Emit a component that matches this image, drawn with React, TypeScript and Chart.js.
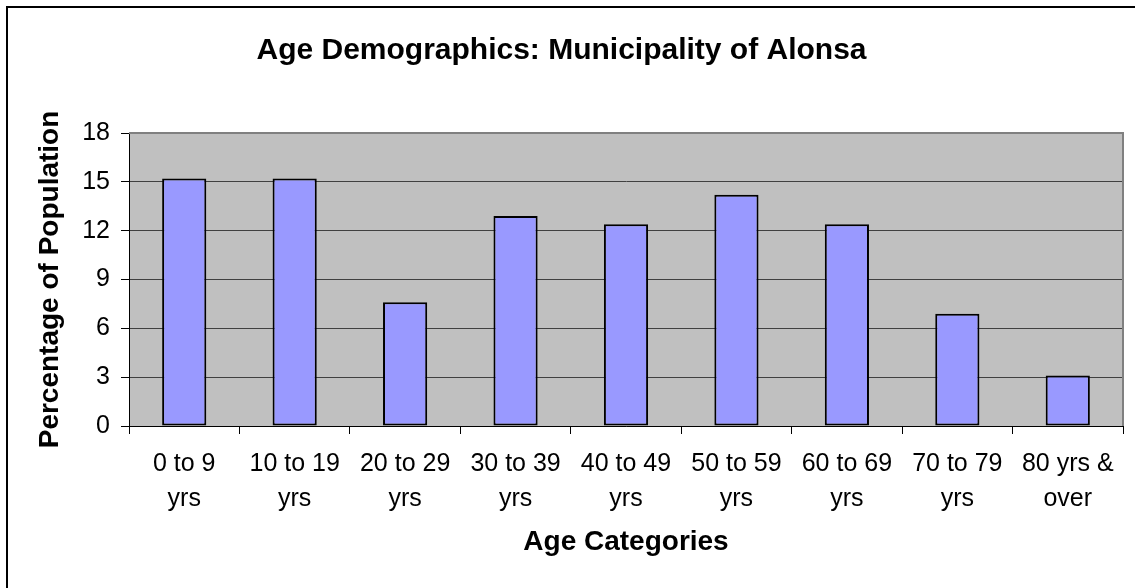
import React, { useEffect, useRef } from "react";
import { Chart, registerables } from "chart.js";

Chart.register(...registerables);

const TITLE = "Age Demographics: Municipality of Alonsa";
const X_TITLE = "Age Categories";
const Y_TITLE = "Percentage of Population";

const categories: string[][] = [
  ["0 to 9", "yrs"],
  ["10 to 19", "yrs"],
  ["20 to 29", "yrs"],
  ["30 to 39", "yrs"],
  ["40 to 49", "yrs"],
  ["50 to 59", "yrs"],
  ["60 to 69", "yrs"],
  ["70 to 79", "yrs"],
  ["80 yrs &", "over"],
];

const percentages: number[] = [15.2, 15.2, 7.6, 12.9, 12.4, 14.2, 12.4, 6.9, 3.1];

const Y_MIN = 0;
const Y_MAX = 18;
const Y_STEP = 3;

const FONT = '"Liberation Sans", Arial, Helvetica, sans-serif';

const plotBackground = {
  id: "plotBackground",
  beforeDraw(chart: any) {
    const { ctx, chartArea } = chart;
    if (!chartArea) return;
    ctx.save();
    ctx.fillStyle = "#C0C0C0";
    ctx.fillRect(chartArea.left, chartArea.top, chartArea.right - chartArea.left, chartArea.bottom - chartArea.top);
    ctx.restore();
  },
  afterDraw(chart: any) {
    const { ctx, chartArea } = chart;
    if (!chartArea) return;
    ctx.save();
    ctx.strokeStyle = "#808080";
    ctx.lineWidth = 2;
    ctx.beginPath();
    ctx.moveTo(chartArea.left, chartArea.top);
    ctx.lineTo(chartArea.right, chartArea.top);
    ctx.lineTo(chartArea.right, chartArea.bottom);
    ctx.stroke();
    ctx.restore();
  },
};

export default function App() {
  const canvasRef = useRef<HTMLCanvasElement | null>(null);

  useEffect(() => {
    const canvas = canvasRef.current;
    if (!canvas) return;
    const chart = new Chart(canvas, {
      type: "bar",
      data: {
        labels: categories,
        datasets: [
          {
            data: percentages,
            backgroundColor: "#9999FF",
            borderColor: "#000000",
            borderWidth: 2,
            borderSkipped: false,
            barPercentage: 0.4,
            categoryPercentage: 1,
          },
        ],
      },
      plugins: [plotBackground],
      options: {
        animation: false,
        responsive: false,
        devicePixelRatio: 1,
        layout: { padding: { left: 0, right: 12, top: 0, bottom: 0 } },
        plugins: {
          legend: { display: false },
          tooltip: { enabled: false },
          title: {
            display: true,
            text: TITLE,
            color: "#000",
            font: { family: FONT, size: 30, weight: "bold", lineHeight: 1.2 },
            padding: { top: 33, bottom: 64 },
          },
        },
        scales: {
          x: {
            afterFit(scale: any) {
              scale.height = 162;
            },
            grid: {
              display: true,
              drawOnChartArea: false,
              drawTicks: true,
              tickLength: 8,
              tickColor: "#000",
              offset: true,
            },
            border: { display: true, color: "#000", width: 1 },
            ticks: {
              color: "#000",
              padding: 12,
              maxRotation: 0,
              autoSkip: false,
              font: { family: FONT, size: 25, lineHeight: 1.42 },
            },
            title: {
              display: true,
              text: X_TITLE,
              color: "#000",
              font: { family: FONT, size: 28, weight: "bold", lineHeight: 1.2 },
              padding: { top: 0, bottom: 29 },
            },
          },
          y: {
            min: Y_MIN,
            max: Y_MAX,
            afterFit(scale: any) {
              scale.width = 129;
            },
            grid: {
              color: "#404040",
              lineWidth: 1,
              drawTicks: true,
              tickLength: 8,
              tickColor: "#000",
            },
            border: { display: true, color: "#000", width: 1 },
            ticks: {
              stepSize: Y_STEP,
              color: "#000",
              padding: 11,
              font: { family: FONT, size: 25 },
            },
            title: {
              display: true,
              text: Y_TITLE,
              color: "#000",
              font: { family: FONT, size: 28, weight: "bold", lineHeight: 1.2 },
              padding: { top: 33, bottom: 0 },
            },
          },
        },
      },
    });
    return () => chart.destroy();
  }, []);

  return (
    <div style={{ position: "absolute", left: 0, top: 0, width: 1135, height: 588, background: "#fff", overflow: "hidden" }}>
      <canvas ref={canvasRef} width={1135} height={588} style={{ position: "absolute", left: 0, top: 0, width: 1135, height: 588 }} />
      <div
        style={{
          position: "absolute",
          left: 6,
          top: 6,
          width: 1129,
          height: 582,
          boxSizing: "border-box",
          borderLeft: "2px solid #000",
          borderTop: "2px solid #000",
          pointerEvents: "none",
        }}
      />
    </div>
  );
}
